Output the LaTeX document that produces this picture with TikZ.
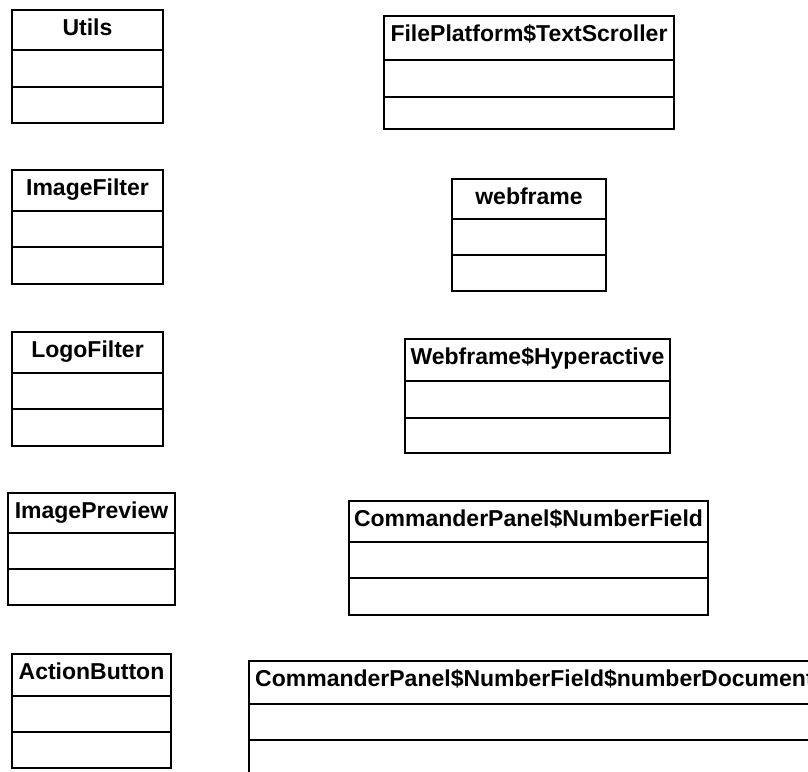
\documentclass[tikz,border=0pt]{standalone}
\usepackage{fontspec}
\setmainfont{Liberation Sans}
\begin{document}
\begin{tikzpicture}[x=1pt,y=-1pt,
  boxframe/.style={draw=black, line width=1.8pt, fill=white, inner sep=0pt, outer sep=0pt, rectangle},
  divider/.style={draw=black, line width=1.8pt},
  boxtitle/.style={inner sep=0pt, font=\fontsize{23}{23}\selectfont\bfseries}]

% class box: name, left, top, right, bottom, first divider, second divider, title
\newcommand\umlbox[8]{%
  \node[boxframe, anchor=north west,
        minimum width={(#4-#2)*1pt}, minimum height={(#5-#3)*1pt}] (#1) at (#2,#3) {};
  \draw[divider] (#1.west |- 0,#6) -- (#1.east |- 0,#6);
  \draw[divider] (#1.west |- 0,#7) -- (#1.east |- 0,#7);
  \node[boxtitle, anchor=base] (#1-title) at ({(#2+#4)/2},{#3+25}) {#8};
}

\useasboundingbox (0,0) rectangle (808,771);
\fill[white] (0,0) rectangle (808,771);
\clip (0,0) rectangle (808,771);

% left column
\umlbox{utils}{12}{10}{163}{123}{50}{87}{Utils}
\umlbox{imagefilter}{12}{170}{163}{284}{211}{247}{ImageFilter}
\umlbox{logofilter}{12}{332}{163}{446}{373}{409}{LogoFilter}
\umlbox{imagepreview}{8}{493}{175}{605}{533}{569}{ImagePreview}
\umlbox{actionbutton}{12}{654}{171}{768}{696}{732}{ActionButton}

% right column
\umlbox{textscroller}{384}{16}{674}{129}{60}{97}{FilePlatform\$TextScroller}
\umlbox{webframe}{452}{179}{606}{291}{219}{255}{webframe}
\umlbox{hyperactive}{405}{339}{670}{453}{381}{418}{Webframe\$Hyperactive}
\umlbox{numberfield}{349}{501}{708}{615}{542}{578}{CommanderPanel\$NumberField}

% wide class running past the page edge
\node[boxframe, anchor=north west, minimum width=580pt, minimum height=140pt] (numberdoc) at (249,661) {};
\draw[divider] (numberdoc.west |- 0,704) -- (numberdoc.east |- 0,704);
\draw[divider] (numberdoc.west |- 0,740) -- (numberdoc.east |- 0,740);
\node[boxtitle, anchor=base west] (numberdoc-title) at (255,686) {CommanderPanel\$NumberField\$numberDocument};
\end{tikzpicture}
\end{document}
